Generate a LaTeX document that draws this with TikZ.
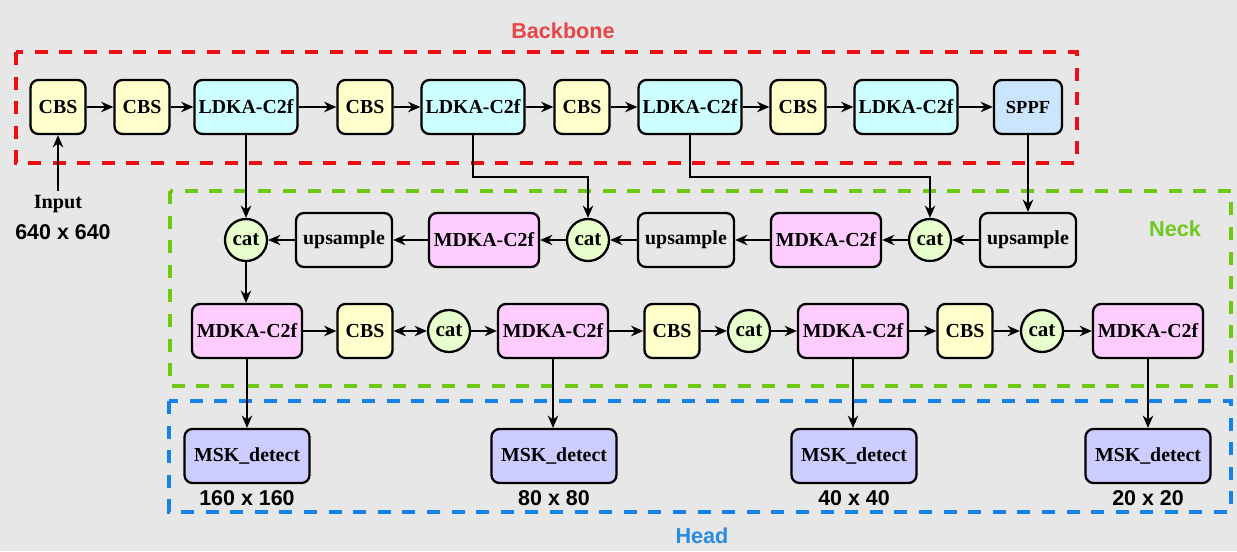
\documentclass[tikz,border=0pt]{standalone}
\usepackage{fontspec}
\setmainfont{Liberation Serif}
\newfontfamily\lsans{Liberation Sans}
\usetikzlibrary{arrows.meta,calc}
\definecolor{bg}{RGB}{231,231,231}
\definecolor{cbsc}{RGB}{255,255,204}
\definecolor{ldkac}{RGB}{204,255,255}
\definecolor{sppfc}{RGB}{204,229,255}
\definecolor{mdkac}{RGB}{255,204,255}
\definecolor{catc}{RGB}{230,255,204}
\definecolor{mskc}{RGB}{204,204,255}
\definecolor{bbline}{RGB}{235,15,20}
\definecolor{bbtext}{RGB}{232,70,70}
\definecolor{nkline}{RGB}{110,200,20}
\definecolor{nktext}{RGB}{110,200,30}
\definecolor{hdline}{RGB}{20,130,235}
\definecolor{hdtext}{RGB}{40,140,230}
\begin{document}
\begin{tikzpicture}[x=0.02cm,y=-0.02cm,
  blk/.style={draw=black, line width=1.3pt, rounded corners=4.5pt, minimum height=1.08cm, inner sep=0pt, font=\fontsize{11.3}{13}\selectfont\bfseries},
  cbs/.style={blk, fill=cbsc, minimum width=1.1cm},
  ldka/.style={blk, fill=ldkac, minimum width=2.06cm},
  sppf/.style={blk, fill=sppfc, minimum width=1.36cm, font=\fontsize{10.5}{12}\selectfont\bfseries},
  ups/.style={blk, fill=bg, minimum width=1.92cm},
  mdka/.style={blk, fill=mdkac, minimum width=2.2cm},
  msk/.style={blk, fill=mskc, minimum width=2.5cm},
  cat/.style={draw=black, line width=1.3pt, circle, fill=catc, minimum size=0.84cm, inner sep=0pt, font=\fontsize{12}{14}\selectfont\bfseries},
  arr/.style={line width=0.9pt, -{Stealth[length=7pt,width=6pt]}},
  darr/.style={line width=0.9pt, {Stealth[length=7pt,width=6pt]}-{Stealth[length=7pt,width=6pt]}},
  grp/.style={line width=2.3pt, dash pattern=on 7.4pt off 6.6pt},
  glabel/.style={font=\lsans\bfseries\fontsize{12.3}{14}\selectfont},
  dimlabel/.style={font=\lsans\bfseries\fontsize{12.2}{14}\selectfont}
]
\fill[bg] (0,0) rectangle (1237,551);
\useasboundingbox (0,0) rectangle (1237,551);

% group frames
\draw[grp, bbline] (16,52) rectangle (1077,163);
\draw[grp, nkline] (170,191) rectangle (1231,386);
\draw[grp, hdline] (169,401) rectangle (1231,512);
\node[glabel, text=bbtext] (lbb) at (563,31) {Backbone};
\node[glabel, text=nktext] (lnk) at (1175,229) {Neck};
\node[glabel, text=hdtext] (lhd) at (702,536) {Head};

% backbone
\node[cbs] (b1) at (58,107) {CBS};
\node[cbs] (b2) at (142,107) {CBS};
\node[ldka] (b3) at (246,107) {LDKA-C2f};
\node[cbs] (b4) at (365,107) {CBS};
\node[ldka] (b5) at (473,107) {LDKA-C2f};
\node[cbs] (b6) at (582,107) {CBS};
\node[ldka] (b7) at (690,107) {LDKA-C2f};
\node[cbs] (b8) at (798,107) {CBS};
\node[ldka] (b9) at (906,107) {LDKA-C2f};
\node[sppf] (b10) at (1028,107) {SPPF};
\foreach \a/\b in {b1/b2,b2/b3,b3/b4,b4/b5,b5/b6,b6/b7,b7/b8,b8/b9,b9/b10}
  \draw[arr] (\a) -- (\b);

% input
\node[font=\fontsize{11.5}{13}\selectfont\bfseries] (inp) at (58,204) {Input};
\node[dimlabel] (insz) at (63,232) {640 x 640};
\coordinate (inpt) at (58,191);
\draw[arr] (inpt) -- (b1.south);

% neck row 1
\node[cat] (c1) at (246,240) {cat};
\node[ups] (u1) at (344,240) {upsample};
\node[mdka] (m1) at (484,240) {MDKA-C2f};
\node[cat] (c2) at (588,240) {cat};
\node[ups] (u2) at (686,240) {upsample};
\node[mdka] (m2) at (826,240) {MDKA-C2f};
\node[cat] (c3) at (930,240) {cat};
\node[ups] (u3) at (1028,240) {upsample};
\foreach \a/\b in {u3/c3,c3/m2,m2/u2,u2/c2,c2/m1,m1/u1,u1/c1}
  \draw[arr] (\a) -- (\b);

\draw[arr] (b3.south) -- (c1.north);
\draw[arr] (b5.south) -- (b5.south |- 0,177) -| (c2.north);
\draw[arr] (b7.south) -- (b7.south |- 0,177) -| (c3.north);
\draw[arr] (b10.south) -- (u3.north);

% neck row 2
\node[mdka] (n1) at (247,331) {MDKA-C2f};
\node[cbs] (k1) at (365,331) {CBS};
\node[cat] (d1) at (449,331) {cat};
\node[mdka] (n2) at (553,331) {MDKA-C2f};
\node[cbs] (k2) at (672,331) {CBS};
\node[cat] (d2) at (749,331) {cat};
\node[mdka] (n3) at (853,331) {MDKA-C2f};
\node[cbs] (k3) at (965,331) {CBS};
\node[cat] (d3) at (1042,331) {cat};
\node[mdka] (n4) at (1148,331) {MDKA-C2f};
\draw[arr] (c1.south) -- (c1.south |- n1.north);
\draw[arr] (n1) -- (k1);
\draw[darr] (k1) -- (d1);
\foreach \a/\b in {d1/n2,n2/k2,k2/d2,d2/n3,n3/k3,k3/d3,d3/n4}
  \draw[arr] (\a) -- (\b);

% head
\node[msk] (h1) at (247,456) {MSK\_detect};
\node[msk] (h2) at (554,456) {MSK\_detect};
\node[msk] (h3) at (854,456) {MSK\_detect};
\node[msk] (h4) at (1148,456) {MSK\_detect};
\draw[arr] (n1.south) -- (n1.south |- h1.north);
\draw[arr] (n2.south) -- (n2.south |- h2.north);
\draw[arr] (n3.south) -- (n3.south |- h3.north);
\draw[arr] (n4.south) -- (n4.south |- h4.north);
\node[dimlabel] (s1) at (247,498) {160 x 160};
\node[dimlabel] (s2) at (554,498) {80 x 80};
\node[dimlabel] (s3) at (854,498) {40 x 40};
\node[dimlabel] (s4) at (1148,498) {20 x 20};
\end{tikzpicture}
\end{document}
